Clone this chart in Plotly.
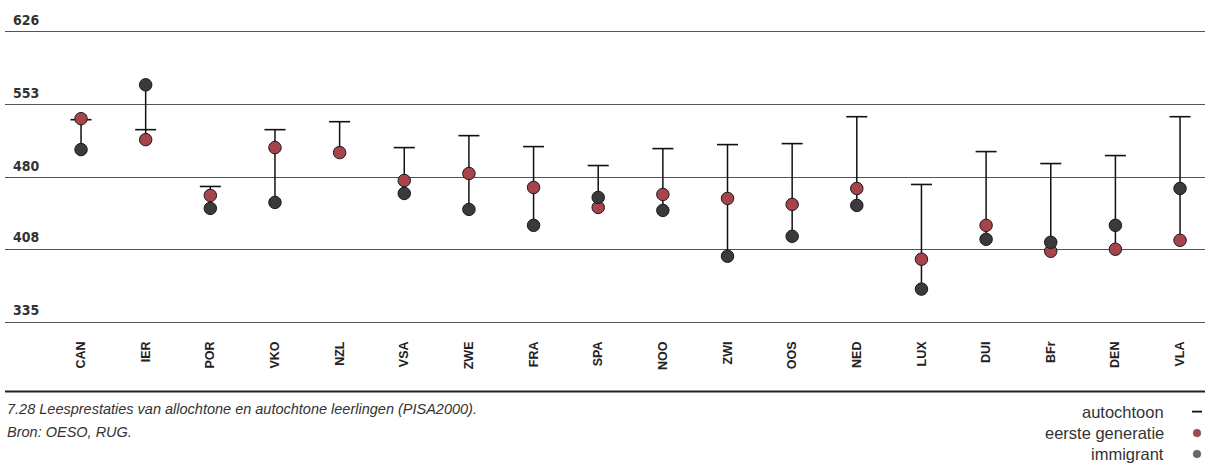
import plotly.graph_objects as go

# PISA 2000 reading scores per country
landen = ["CAN", "IER", "POR", "VKO", "NZL", "VSA", "ZWE", "FRA", "SPA",
          "NOO", "ZWI", "OOS", "NED", "LUX", "DUI", "BFr", "DEN", "VLA"]
autochtoon = [538, 528, 471, 528, 536, 510, 522, 511, 492,
              509, 513, 514, 541, 473, 506, 494, 502, 541]
eerste_generatie = [539, 518, 462, 510, 505, 477, 484, 470, 450,
                    463, 459, 453, 469, 398, 432, 406, 408, 417]
immigrant = [508, 573, 449, 455, None, 464, 448, 432, 460,
             447, 401, 421, 452, 368, 418, 415, 432, 469]

y_ticks = [335, 408, 480, 553, 626]

rood = "#a8434b"
donker = "#3a3a3a"

# vertical range lines: from lowest to highest of the three scores
lijn_x, lijn_y = [], []
for land, a, e, i in zip(landen, autochtoon, eerste_generatie, immigrant):
    vals = [v for v in (a, e, i) if v is not None]
    lijn_x += [land, land, None]
    lijn_y += [min(vals), max(vals), None]

fig = go.Figure()

fig.add_trace(go.Scatter(
    x=lijn_x, y=lijn_y, mode="lines",
    line=dict(color="#111111", width=1.5),
    hoverinfo="skip", showlegend=False,
))
fig.add_trace(go.Scatter(
    x=landen, y=autochtoon, mode="markers", name="autochtoon",
    marker=dict(symbol="line-ew", size=15, line=dict(color="#111111", width=1.6)),
    showlegend=False,
))
fig.add_trace(go.Scatter(
    x=landen, y=eerste_generatie, mode="markers", name="eerste generatie",
    marker=dict(size=12.5, color=rood, line=dict(color="#1a1a1a", width=1)),
    showlegend=False, cliponaxis=False,
))
fig.add_trace(go.Scatter(
    x=landen, y=immigrant, mode="markers", name="immigrant",
    marker=dict(size=12.5, color=donker, line=dict(color="#1a1a1a", width=1)),
    showlegend=False, cliponaxis=False,
))

# y labels sit above their gridline, at the left
annotations = []
for t in y_ticks:
    annotations.append(dict(
        x=0, xref="paper", y=t, yref="y", text=str(t), showarrow=False,
        xanchor="left", yanchor="bottom", xshift=6, yshift=2,
        font=dict(family="DejaVu Sans Condensed", size=14,
                  color="#333333", weight="bold"),
    ))

# caption
caption_font = dict(family="Liberation Sans", size=14.5, color="#333333", style="italic")
annotations.append(dict(
    x=0, xref="paper", y=-0.289, yref="paper", showarrow=False,
    text="7.28 Leesprestaties van allochtone en autochtone leerlingen (PISA2000).",
    xanchor="left", yanchor="middle", font=caption_font,
))
annotations.append(dict(
    x=0, xref="paper", y=-0.367, yref="paper", showarrow=False,
    text="Bron: OESO, RUG.", xanchor="left", yanchor="middle", font=caption_font,
))

# manual legend, text left of the symbol
legend_font = dict(family="Liberation Sans", size=16.5, color="#333333")
legend_items = [("autochtoon", -0.298), ("eerste generatie", -0.371), ("immigrant", -0.442)]
for txt, yy in legend_items:
    annotations.append(dict(
        x=0.9675, xref="paper", y=yy, yref="paper", text=txt, showarrow=False,
        xanchor="right", yanchor="middle", font=legend_font,
    ))

shapes = [
    # thick rule under the chart
    dict(type="line", xref="paper", yref="paper", x0=0, x1=1, y0=-0.2296, y1=-0.2296,
         line=dict(color="#222222", width=2.2)),
    # legend symbols
    dict(type="line", xref="paper", yref="paper", x0=(1192 - 5) / 1200, x1=(1202 - 5) / 1200,
         y0=-0.298, y1=-0.298, line=dict(color="#111111", width=1.8)),
    dict(type="circle", xref="paper", yref="paper", xsizemode="pixel", ysizemode="pixel",
         xanchor=(1197 - 5) / 1200, yanchor=-0.371, x0=-3.8, x1=3.8, y0=-3.8, y1=3.8,
         fillcolor=rood, line=dict(color="#555555", width=0.6)),
    dict(type="circle", xref="paper", yref="paper", xsizemode="pixel", ysizemode="pixel",
         xanchor=(1197 - 5) / 1200, yanchor=-0.442, x0=-3.8, x1=3.8, y0=-3.8, y1=3.8,
         fillcolor="#666666", line=dict(color="#555555", width=0.6)),
]

fig.update_layout(
    width=1205, height=469,
    margin=dict(l=5, r=0, t=30, b=145),
    paper_bgcolor="white", plot_bgcolor="white",
    showlegend=False,
    annotations=annotations,
    shapes=shapes,
    xaxis=dict(
        type="category", range=[-1.176, 17.386],
        showgrid=False, zeroline=False, showline=False,
        tickangle=-90, ticks="", ticklabelstandoff=14,
        tickfont=dict(family="Liberation Sans", size=12.5, color="#222222", weight="bold"),
    ),
    yaxis=dict(
        range=[333, 628], tickvals=y_ticks, showticklabels=False,
        showgrid=True, gridcolor="#555555", gridwidth=1,
        zeroline=False, showline=False,
    ),
)

# page has a default body margin; drop it so the figure fills the window
fig.write_html("out.html", config={"displayModeBar": False},
               post_script="document.body.style.margin='0';")
